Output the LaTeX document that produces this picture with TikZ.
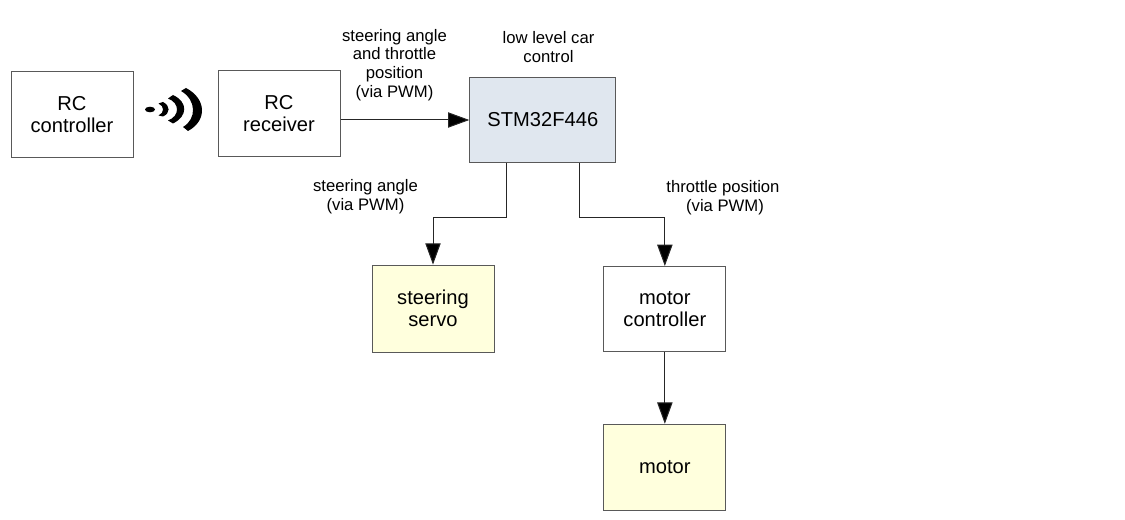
\documentclass[tikz,border=0pt]{standalone}
\usepackage{fontspec}
\setmainfont{Liberation Sans}
\usetikzlibrary{arrows.meta}
\tikzset{
  x=0.75pt,y=-0.75pt,
  block/.style={draw=black!65,line width=0.75pt,inner sep=0pt,align=center,font=\fontsize{15.1}{16.6}\selectfont},
  lbl/.style={inner sep=0pt,align=center,font=\fontsize{12.5}{14}\selectfont,text=black},
  conn/.style={draw=black!85,line width=0.75pt,-{Triangle[length=16pt,width=11.5pt,fill=black]}},
  wave/.style={fill=black,draw=none},
}
\definecolor{bluefill}{HTML}{E0E7EF}
\definecolor{yellowfill}{HTML}{FFFFDD}
\newcommand{\blk}[6]{\node[block,minimum width=#2*0.75pt,minimum height=#3*0.75pt,fill=#4] (#1) at (#5) {#6};}
\begin{document}
\begin{tikzpicture}
\useasboundingbox (0,0) rectangle (1125,520);
\blk{rcc}{122}{86}{white}{72,114.5}{RC\\controller}
\blk{rcr}{122}{86}{white}{279,113.5}{RC\\receiver}
\blk{stm}{146}{85}{bluefill}{542.85,120}{STM32F446}
\blk{servo}{122}{87}{yellowfill}{433,308.6}{steering\\servo}
\blk{mc}{122}{85}{white}{664.85,309}{motor\\controller}
\blk{motor}{122}{86}{yellowfill}{664.85,467.3}{motor}
\draw[conn] (stm.west -| rcr.east) -- (stm.west);
\draw[conn] ([xshift=-27.6pt]stm.south) -- ++(0,54.2) -| (servo.north);
\draw[conn] ([xshift=27.5pt]stm.south) -- ++(0,54.2) -| (mc.north);
\draw[conn] (mc.south) -- (motor.north);
\node[lbl] (l1) at (394.5,65) {steering angle\\and throttle\\position\\(via PWM)};
\node[lbl] (l2) at (548.5,47) {low level car\\control};
\node[lbl] (l3) at (365.5,197) {steering angle\\(via PWM)};
\node[lbl] (l4) at (723,198) {throttle position\\[0.5pt]\hspace*{3pt}(via PWM)};
\fill[wave] (150,109.5) ellipse [x radius=5, y radius=2.8];
\fill[wave] (158.5,103.5) -- (163,102) .. controls (170.5,106) and (170.5,113) .. (163,116.5) -- (158.5,115.5) .. controls (164.5,113) and (164.5,106) .. cycle;
\fill[wave] (168,98.5) -- (173,95) .. controls (188,102) and (188,116) .. (173,123.5) -- (168,120.5) .. controls (180,116) and (180,103) .. cycle;
\fill[wave] (181,91) -- (186,88) .. controls (207,99) and (207,121) .. (188,131) -- (183,127) .. controls (196.7,119) and (196.7,100) .. cycle;
\end{tikzpicture}
\end{document}
